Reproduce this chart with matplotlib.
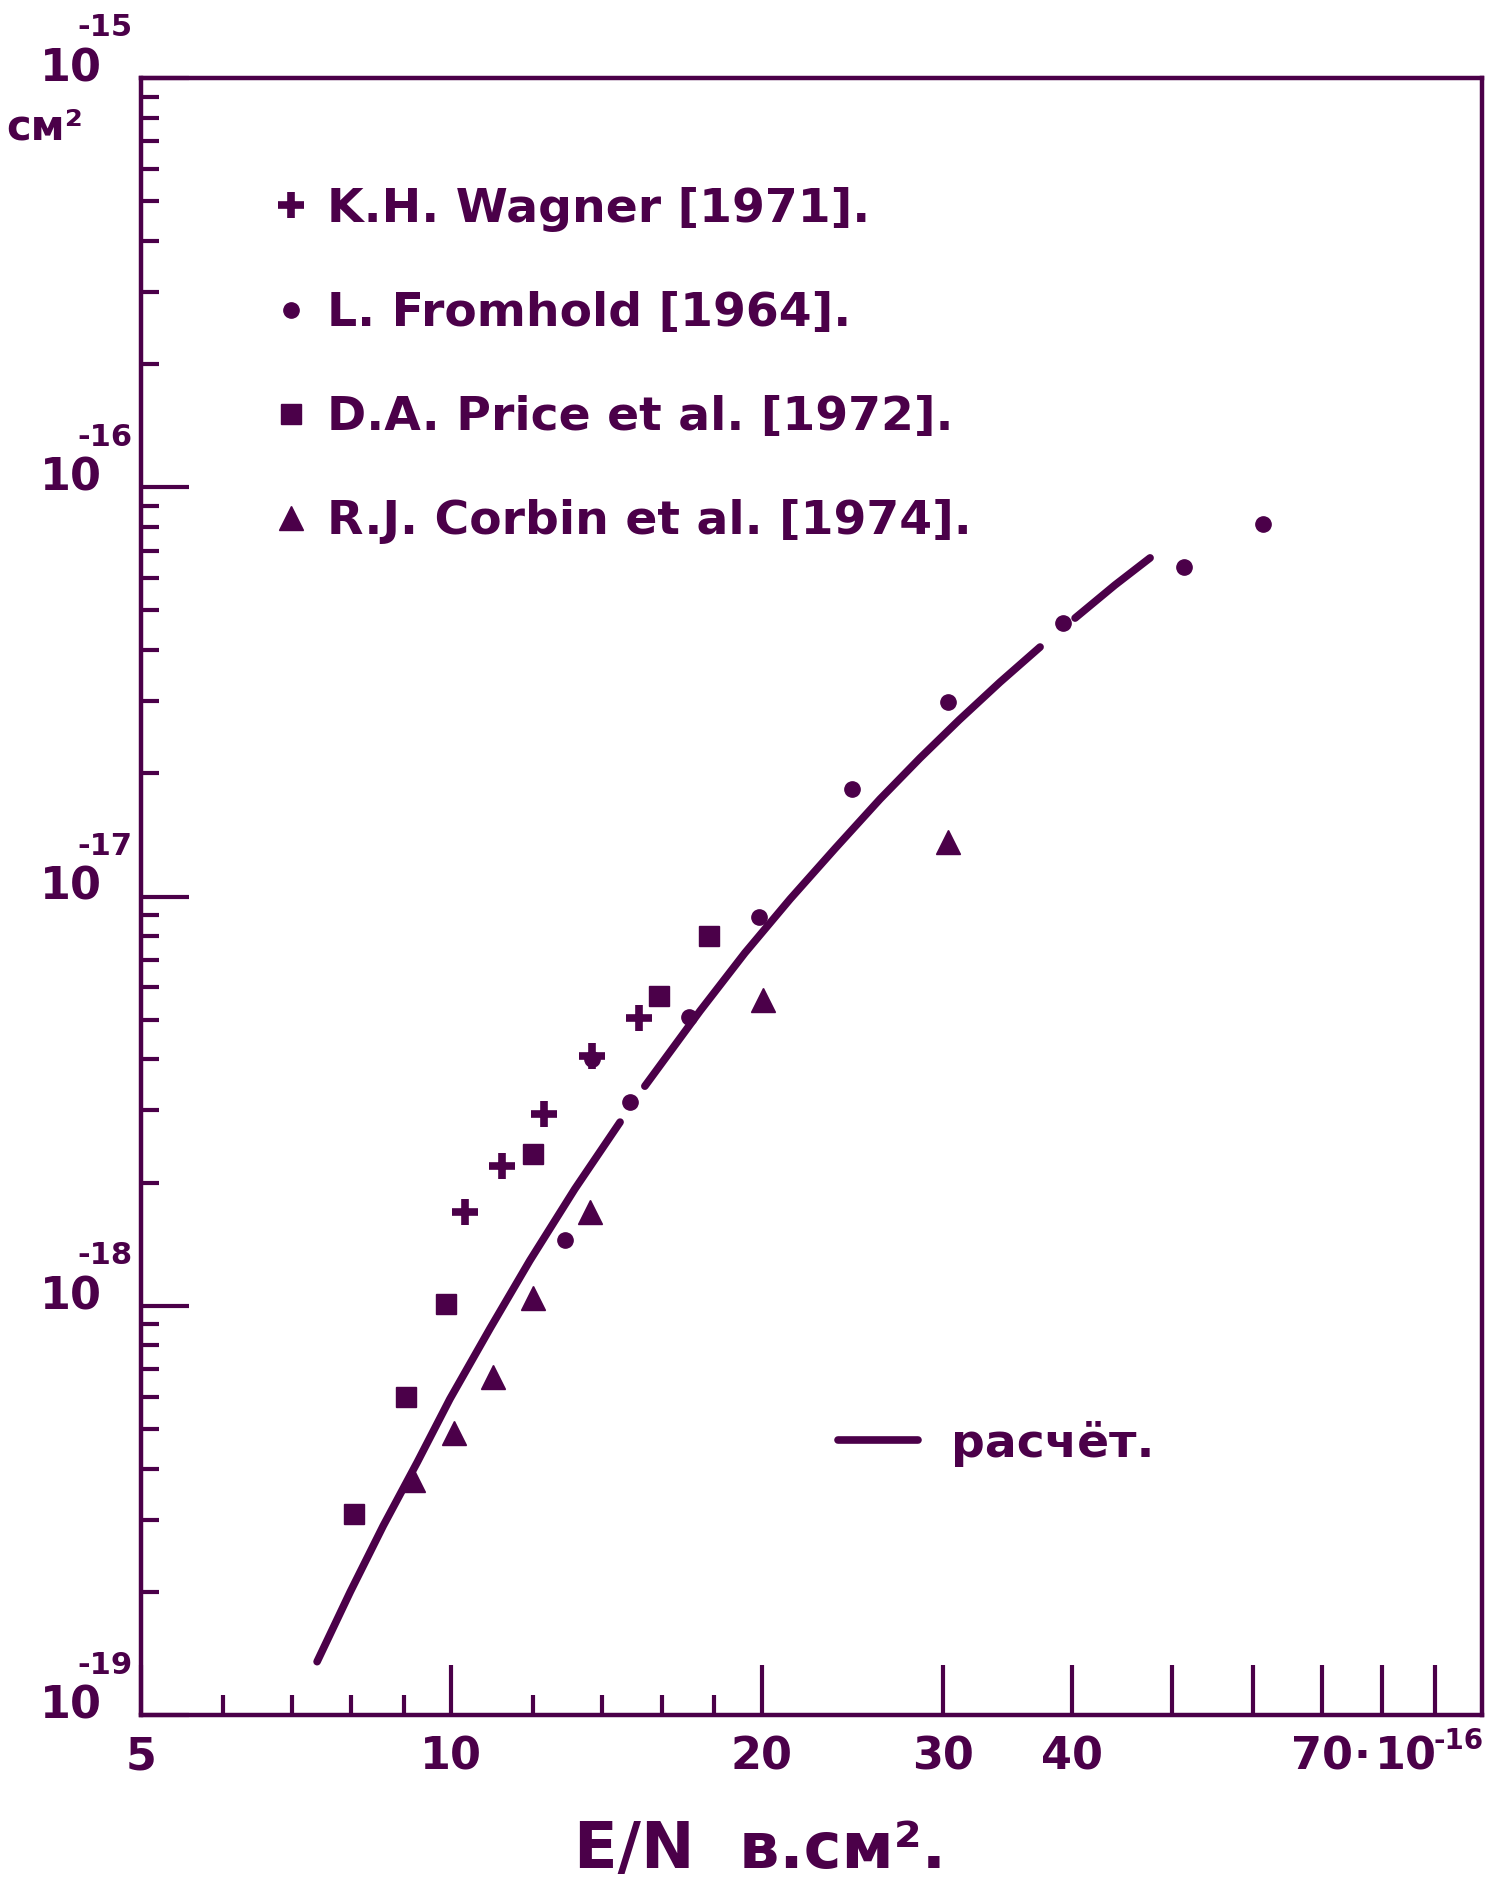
import numpy as np
import matplotlib
matplotlib.use('Agg')
import matplotlib.pyplot as plt
import matplotlib.transforms as mtransforms
from matplotlib.ticker import FixedLocator, FixedFormatter, NullFormatter

INK = '#4b0049'
FONT = ['DejaVu Sans']
plt.rcParams['font.family'] = FONT
plt.rcParams['font.weight'] = 'bold'

# ---------------- data (E/N in 1e-16 V cm^2, cross-section in cm^2) -------------
wagner_x = [10.3, 11.2, 12.3, 13.7, 15.2]
wagner_y = [1.69e-18, 2.20e-18, 2.94e-18, 4.07e-18, 5.05e-18]

fromhold_x = [12.9, 13.7, 14.9, 17.0, 19.9, 24.5, 30.3, 39.2, 51.4, 61.3]
fromhold_y = [1.45e-18, 4.0e-18, 3.15e-18, 5.08e-18, 8.9e-18, 1.83e-17,
              2.99e-17, 4.66e-17, 6.38e-17, 8.13e-17]

price_x = [8.05, 9.04, 9.88, 12.0, 15.9, 17.8]
price_y = [3.1e-19, 6.0e-19, 1.01e-18, 2.35e-18, 5.7e-18, 8.0e-18]

corbin_x = [9.18, 10.06, 10.98, 12.0, 13.64, 20.06, 30.3]
corbin_y = [3.75e-19, 4.89e-19, 6.7e-19, 1.045e-18, 1.69e-18, 5.58e-18, 1.36e-17]

nan = np.nan
calc_x = [7.41, 7.98, 8.59, 9.27, 9.97, 10.91, 11.92, 13.18, 14.58, nan,
          15.41, 17.43, 19.27, 21.32, 23.57, 26.06, 28.50, 31.10, 34.07, 37.26, nan,
          40.29, 44.05, 47.64]
calc_y = [1.35e-19, 2.00e-19, 2.90e-19, 4.15e-19, 5.92e-19, 8.82e-19, 1.29e-18,
          1.93e-18, 2.81e-18, nan, 3.44e-18, 5.25e-18, 7.28e-18, 9.86e-18,
          1.31e-17, 1.73e-17, 2.18e-17, 2.70e-17, 3.34e-17, 4.07e-17, nan,
          4.79e-17, 5.77e-17, 6.72e-17]

legend_labels = ['K.H. Wagner [1971].', 'L. Fromhold [1964].',
                 'D.A. Price et al. [1972].', 'R.J. Corbin et al. [1974].']
calc_label = 'расчёт.'

x_major = [5, 10, 20, 30, 40, 50, 60, 70, 80, 90]
x_major_labels = ['5', '10', '20', '30', '40', '', '', '70', '', '']
x_minor = [6, 7, 8, 9, 12, 14, 16, 18]
y_decades = [-19, -18, -17, -16, -15]
y_unit = 'см²'
x_label = 'E/N  в.см².'
x_scale_base = '10'
x_scale_exp = '-16'

# ---------------- figure ----------------
W, H = 1488, 1898
fig = plt.figure(figsize=(W / 100, H / 100), dpi=100)
fig.patch.set_facecolor('white')
L, R, T, B = 141, 1482, 78, 1715
ax = fig.add_axes([L / W, 1 - B / H, (R - L) / W, (B - T) / H])
ax.set_xscale('log')
ax.set_yscale('log')
ax.set_xlim(5, 100)
ax.set_ylim(1e-19, 1e-15)

def pt(px):
    return px * 0.72

line, = ax.plot(calc_x, calc_y, color=INK, lw=5.5, solid_capstyle='round')
h_w, = ax.plot(wagner_x, wagner_y, ls='none', marker='+', ms=19, mew=5.5, color=INK)
h_f, = ax.plot(fromhold_x, fromhold_y, ls='none', marker='o', ms=11, color=INK)
h_p, = ax.plot(price_x, price_y, ls='none', marker='s', ms=15, color=INK)
h_c, = ax.plot(corbin_x, corbin_y, ls='none', marker='^', ms=17, color=INK)

for s in ax.spines.values():
    s.set_color(INK)
    s.set_linewidth(3.2)

ax.xaxis.set_major_locator(FixedLocator(x_major))
ax.xaxis.set_major_formatter(FixedFormatter(x_major_labels))
ax.xaxis.set_minor_locator(FixedLocator(x_minor))
ax.xaxis.set_minor_formatter(NullFormatter())
ax.tick_params(axis='x', which='major', direction='in', length=pt(50), width=3,
               color=INK, labelcolor=INK, labelsize=32, pad=pt(20))
ax.tick_params(axis='x', which='minor', direction='in', length=pt(20), width=3,
               color=INK)

y_major = [10.0 ** d for d in y_decades]
y_minor = [k * 10.0 ** d for d in y_decades[:-1] for k in range(2, 10)]
ax.yaxis.set_major_locator(FixedLocator(y_major))
ax.yaxis.set_minor_locator(FixedLocator(y_minor))
ax.yaxis.set_major_formatter(NullFormatter())
ax.yaxis.set_minor_formatter(NullFormatter())
ax.tick_params(axis='y', which='major', direction='in', length=pt(48), width=3, color=INK)
ax.tick_params(axis='y', which='minor', direction='in', length=pt(18), width=3, color=INK)
for lab in ax.get_xticklabels():
    lab.set_fontweight('bold')

# y tick labels 10^-n
ytr = mtransforms.blended_transform_factory(ax.transAxes, ax.transData)
for d, v in zip(y_decades, y_major):
    ax.annotate('10', xy=(0, v), xycoords=ytr, xytext=(pt(-70), pt(9)),
                textcoords='offset points', ha='center', va='center',
                fontsize=32, fontweight='bold', color=INK, annotation_clip=False)
    ax.annotate('-%d' % (-d), xy=(0, v), xycoords=ytr, xytext=(pt(-36), pt(50)),
                textcoords='offset points', ha='center', va='center',
                fontsize=22, fontweight='bold', color=INK, annotation_clip=False)
ax.annotate(y_unit, xy=(0, y_major[-1]), xycoords=ytr, xytext=(pt(-96), pt(-50)),
            textcoords='offset points', ha='center', va='center',
            fontsize=30, fontweight='bold', color=INK, annotation_clip=False)

# x scale factor after "70"
xtr = mtransforms.blended_transform_factory(ax.transData, ax.transAxes)
ax.annotate('·', xy=(70, 0), xycoords=xtr, xytext=(pt(40), pt(-42)),
            textcoords='offset points', ha='center', va='center',
            fontsize=32, fontweight='bold', color=INK, annotation_clip=False)
ax.annotate(x_scale_base, xy=(70, 0), xycoords=xtr, xytext=(pt(84), pt(-42)),
            textcoords='offset points', ha='center', va='center',
            fontsize=32, fontweight='bold', color=INK, annotation_clip=False)
ax.annotate(x_scale_exp, xy=(70, 0), xycoords=xtr, xytext=(pt(136), pt(-26)),
            textcoords='offset points', ha='center', va='center',
            fontsize=20, fontweight='bold', color=INK, annotation_clip=False)

ax.set_xlabel(x_label, fontsize=46, fontweight='bold', color=INK)
ax.xaxis.set_label_coords((760 - L) / (R - L), -(1850 - B) / (B - T))
ax.xaxis.label.set_va('center')

leg = ax.legend([h_w, h_f, h_p, h_c], legend_labels, loc='upper left',
                bbox_to_anchor=((272 - L) / (R - L), 1 - (187 - T) / (B - T)),
                frameon=False, borderpad=0, borderaxespad=0, handlelength=0.8,
                handletextpad=0.36, labelspacing=1.25,
                prop={'size': 34, 'weight': 'bold', 'family': FONT})
for t in leg.get_texts():
    t.set_color(INK)
ax.add_artist(leg)

leg2 = ax.legend([line], [calc_label], loc='center left',
                 bbox_to_anchor=((838 - L) / (R - L), 1 - (1444 - T) / (B - T)),
                 frameon=False, borderpad=0, borderaxespad=0, handlelength=1.7,
                 handletextpad=0.7,
                 prop={'size': 34, 'weight': 'bold', 'family': FONT})
for t in leg2.get_texts():
    t.set_color(INK)

fig.savefig('out.png', dpi=100, facecolor='white')
